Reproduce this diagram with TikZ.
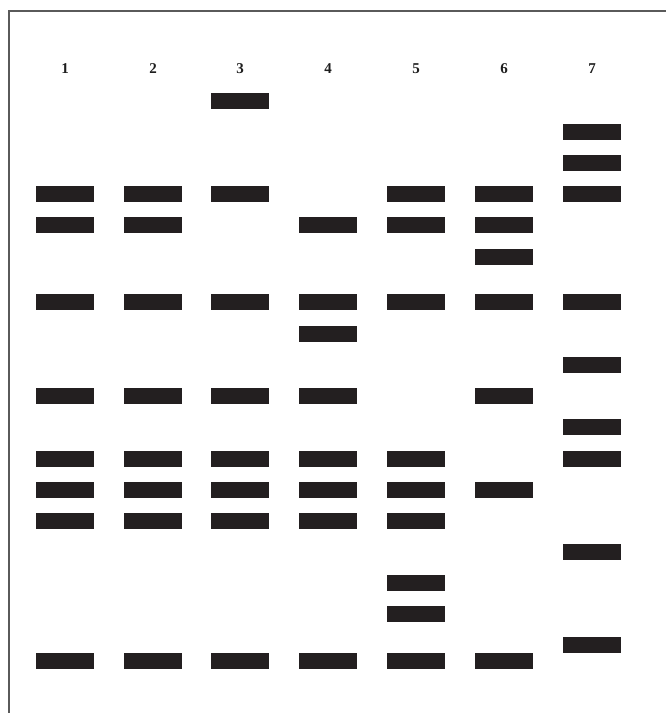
\documentclass[tikz,border=0pt]{standalone}
\usepackage{fontspec}
\setmainfont{Liberation Serif}
\begin{document}
\begin{tikzpicture}[x=1pt,y=-1pt,
  band/.style={fill={rgb,255:red,35;green,31;blue,32}},
  lanelabel/.style={font=\bfseries\fontsize{15}{15}\selectfont, text={rgb,255:red,30;green,30;blue,30}, inner sep=0pt}]
\useasboundingbox (0,0) rectangle (666,713);
\fill[white] (0,0) rectangle (666,713);
\draw[line width=2.2pt, draw={rgb,255:red,90;green,90;blue,90}] (9,713) -- (9,11) -- (666,11);
% lane labels
\foreach \n/\x in {1/65,2/153,3/240,4/328,5/416,6/504,7/592}
  \node[lanelabel] (lab\n) at (\x,68.5) {\n};
% bands: lane x / y
\foreach \x/\y in {
  65/194,65/225,65/302,65/396,65/459,65/490,65/521,65/661,
  153/194,153/225,153/302,153/396,153/459,153/490,153/521,153/661,
  240/101,240/194,240/302,240/396,240/459,240/490,240/521,240/661,
  328/225,328/302,328/334,328/396,328/459,328/490,328/521,328/661,
  416/194,416/225,416/302,416/459,416/490,416/521,416/583,416/614,416/661,
  504/194,504/225,504/257,504/302,504/396,504/490,504/661,
  592/132,592/163,592/194,592/302,592/365,592/427,592/459,592/552,592/645}
  \fill[band] (\x-29,\y-8) rectangle (\x+29,\y+8);
\end{tikzpicture}
\end{document}
